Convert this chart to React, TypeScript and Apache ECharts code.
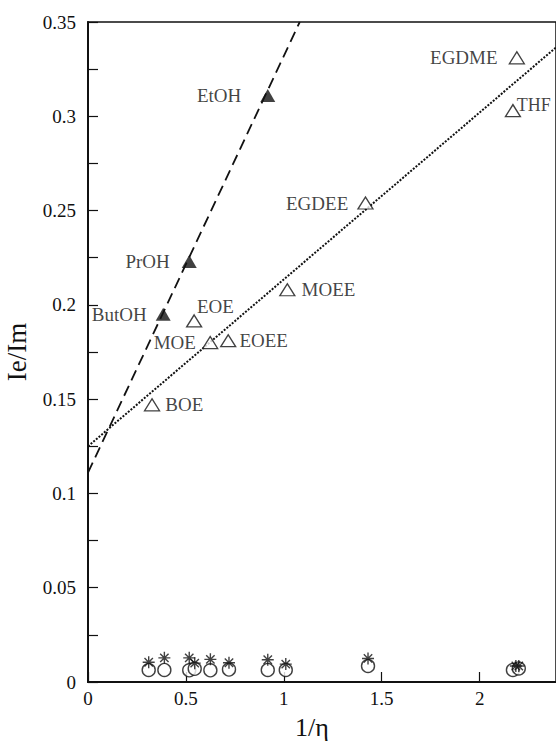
import React, { useEffect, useRef } from "react";
import * as echarts from "echarts";

// Alcohols (filled triangles)
const alcoholNames = ["ButOH", "PrOH", "EtOH"];
const alcoholX = [0.384, 0.517, 0.918];
const alcoholY = [0.195, 0.223, 0.311];

// Ethers (open triangles)
const etherNames = ["BOE", "EOE", "MOE", "EOEE", "MOEE", "EGDEE", "THF", "EGDME"];
const etherX = [0.327, 0.542, 0.624, 0.716, 1.018, 1.417, 2.17, 2.19];
const etherY = [0.147, 0.1915, 0.18, 0.181, 0.208, 0.254, 0.303, 0.331];

// Near-zero series (asterisks and open circles)
const starX = [0.31, 0.39, 0.517, 0.545, 0.625, 0.72, 0.918, 1.01, 1.43, 2.185, 2.2];
const starY = [0.0105, 0.0128, 0.0128, 0.01, 0.012, 0.0102, 0.0118, 0.0095, 0.0125, 0.0085, 0.0085];
const circleX = [0.31, 0.39, 0.517, 0.545, 0.625, 0.72, 0.918, 1.01, 1.43, 2.17, 2.2];
const circleY = [0.0064, 0.0064, 0.0062, 0.007, 0.0062, 0.0066, 0.0064, 0.0064, 0.0085, 0.0064, 0.0072];

// Linear fits: [intercept, slope]
const alcoholFit = [0.111, 0.221];
const etherFit = [0.125, 0.0885];

const xTicks = [0, 0.5, 1, 1.5, 2];
const X_MAX = 2.39;
const Y_MAX = 0.35;

const FONT = "Liberation Serif";
const INK = "#111";

const ASTERISK =
  "path://M0,-10 L0,10 M-10,0 L10,0 M-7,-7 L7,7 M-7,7 L7,-7";

// Where each point label sits around its marker
const alcoholLabel: Record<string, any> = {
  ButOH: { position: "left", distance: 9 },
  PrOH: { position: "left", distance: 12 },
  EtOH: { position: "left", distance: 19 },
};
const etherLabel: Record<string, any> = {
  BOE: { position: "right", distance: 5 },
  EOE: { position: [11, -17] },
  MOE: { position: "left", distance: 6 },
  EOEE: { position: "right", distance: 3 },
  MOEE: { position: "right", distance: 6 },
  EGDEE: { position: "left", distance: 9 },
  THF: { position: [12, -8], fontSize: 18 },
  EGDME: { position: "left", distance: 11 },
};

function fitLine(fit: number[]) {
  const [b, m] = fit;
  const xEnd = Math.min(X_MAX, (Y_MAX - b) / m);
  return [
    [0, b],
    [xEnd, b + m * xEnd],
  ];
}

export default function App() {
  const ref = useRef<HTMLDivElement>(null);

  useEffect(() => {
    if (!ref.current) return;
    const chart = echarts.init(ref.current, undefined, { renderer: "svg" });

    const labelBase = {
      show: true,
      fontFamily: FONT,
      fontSize: 19,
      color: INK,
    };

    chart.setOption({
      animation: false,
      backgroundColor: "#fff",
      grid: {
        left: 88,
        top: 22,
        right: 0,
        bottom: 60,
        outerBoundsMode: "none",
        containLabel: false,
        show: true,
        borderColor: INK,
        borderWidth: 1.5,
      },
      xAxis: {
        type: "value",
        min: 0,
        max: X_MAX,
        interval: 0.5,
        name: "1/η",
        nameLocation: "middle",
        nameGap: 32,
        nameTextStyle: { fontFamily: FONT, fontSize: 26, color: INK, padding: [0, 20, 0, 0] },
        axisLine: { show: true, onZero: false, lineStyle: { color: INK, width: 2 } },
        axisTick: { show: true, inside: true, length: 10, lineStyle: { color: INK, width: 1.2 } },
        axisLabel: {
          fontFamily: FONT,
          fontSize: 19,
          color: INK,
          margin: 7,
          showMaxLabel: false,
          formatter: (v: number) => (xTicks.includes(v) ? String(v) : ""),
        },
        splitLine: { show: false },
      },
      yAxis: {
        type: "value",
        min: 0,
        max: Y_MAX,
        interval: 0.05,
        name: "Ie/Im",
        nameLocation: "middle",
        nameGap: 58,
        nameRotate: 90,
        nameTextStyle: { fontFamily: FONT, fontSize: 27, color: INK },
        axisLine: { show: true, onZero: false, lineStyle: { color: INK, width: 2 } },
        axisTick: { show: true, inside: true, length: 10, lineStyle: { color: INK, width: 1.2 } },
        minorTick: { show: true, splitNumber: 2, length: 10, lineStyle: { color: INK, width: 1.2 } },
        axisLabel: { fontFamily: FONT, fontSize: 19, color: INK, margin: 12 },
        splitLine: { show: false },
      },
      series: [
        {
          type: "line",
          data: fitLine(alcoholFit),
          showSymbol: false,
          symbol: "none",
          lineStyle: { color: INK, width: 1.8, type: [11, 6] },
          z: 1,
        },
        {
          type: "line",
          data: fitLine(etherFit),
          showSymbol: false,
          symbol: "none",
          lineStyle: { color: INK, width: 2, type: [2, 1.5] },
          z: 1,
        },
        {
          type: "scatter",
          symbol: "triangle",
          symbolSize: [15, 13],
          itemStyle: { color: INK },
          data: alcoholX.map((x, i) => ({
            value: [x, alcoholY[i]],
            label: { ...labelBase, ...alcoholLabel[alcoholNames[i]], formatter: alcoholNames[i] },
          })),
          z: 3,
        },
        {
          type: "scatter",
          symbol: "triangle",
          symbolSize: [15, 12],
          itemStyle: { color: "#fff", borderColor: INK, borderWidth: 1.3 },
          data: etherX.map((x, i) => ({
            value: [x, etherY[i]],
            label: { ...labelBase, ...etherLabel[etherNames[i]], formatter: etherNames[i] },
          })),
          z: 3,
        },
        {
          type: "scatter",
          symbol: "circle",
          symbolSize: 13,
          itemStyle: { color: "#fff", borderColor: INK, borderWidth: 1.4 },
          data: circleX.map((x, i) => [x, circleY[i]]),
          z: 2,
        },
        {
          type: "scatter",
          symbol: ASTERISK,
          symbolSize: 12,
          itemStyle: { color: "transparent", borderColor: INK, borderWidth: 1.4 },
          data: starX.map((x, i) => [x, starY[i]]),
          z: 3,
        },
      ],
    });

    return () => chart.dispose();
  }, []);

  return (
    <div
      ref={ref}
      style={{ position: "fixed", left: 0, top: 0, width: 556, height: 742, background: "#fff" }}
    />
  );
}
